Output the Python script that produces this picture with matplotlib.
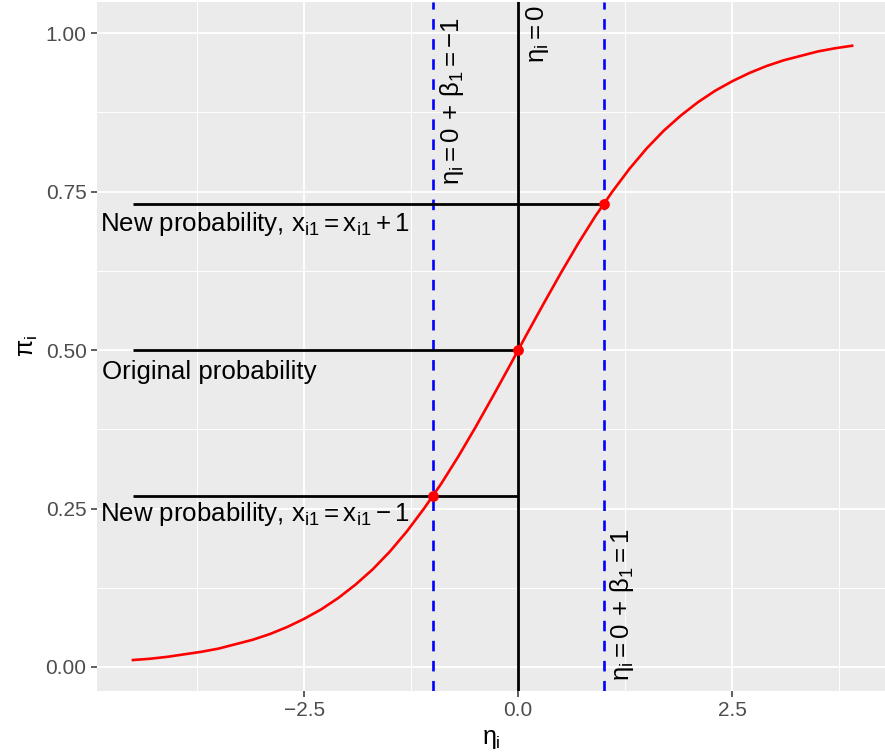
import matplotlib
matplotlib.use("Agg")
import matplotlib.pyplot as plt

plt.rcParams["font.family"] = ["Liberation Sans", "DejaVu Sans"]
plt.rcParams["mathtext.fontset"] = "custom"
plt.rcParams["mathtext.rm"] = "Liberation Sans"
plt.rcParams["mathtext.it"] = "Liberation Sans"
plt.rcParams["mathtext.bf"] = "Liberation Sans:bold"

# logistic curve, values
eta = [-4.5, -4.3, -4.1, -3.9, -3.7, -3.5, -3.3, -3.1, -2.9, -2.7, -2.5,
       -2.3, -2.1, -1.9, -1.7, -1.5, -1.3, -1.1, -0.9, -0.7, -0.5, -0.3,
       -0.1, 0.1, 0.3, 0.5, 0.7, 0.9, 1.1, 1.3, 1.5, 1.7, 1.9, 2.1, 2.3,
       2.5, 2.7, 2.9, 3.1, 3.3, 3.5, 3.7, 3.9]
prob = [0.011, 0.013, 0.016, 0.020, 0.024, 0.029, 0.036, 0.043, 0.052,
        0.063, 0.076, 0.091, 0.109, 0.130, 0.154, 0.182, 0.214, 0.250,
        0.289, 0.332, 0.378, 0.426, 0.475, 0.525, 0.574, 0.622, 0.668,
        0.711, 0.750, 0.786, 0.818, 0.846, 0.870, 0.891, 0.909, 0.924,
        0.937, 0.948, 0.957, 0.964, 0.971, 0.976, 0.980]

# marked points: beta_1 = -1, 0, +1
pt_eta = [-1.0, 0.0, 1.0]
pt_prob = [0.269, 0.5, 0.731]

# horizontal reference segments (y, x_start, x_end)
seg_y = [0.269, 0.5, 0.731]
seg_x0 = [-4.5, -4.5, -4.5]
seg_x1 = [0.0, 0.0, 1.0]

bg = "#EBEBEB"
fig = plt.figure(figsize=(8.85, 7.55), dpi=100)
ax = fig.add_axes([97 / 885, 1 - 690.7 / 755, 1 - 97 / 885, (690.7 - 2) / 755])
ax.set_facecolor(bg)
for s in ax.spines.values():
    s.set_visible(False)

ax.set_xlim(-4.92, 4.284)
ax.set_ylim(-0.0374, 1.049)

ax.set_xticks([-2.5, 0.0, 2.5])
ax.set_xticklabels(["\u22122.5", "0.0", "2.5"])
ax.set_yticks([0.0, 0.25, 0.5, 0.75, 1.0])
ax.set_yticklabels(["0.00", "0.25", "0.50", "0.75", "1.00"])
ax.set_xticks([-3.75, -1.25, 1.25, 3.75], minor=True)
ax.set_yticks([0.125, 0.375, 0.625, 0.875], minor=True)
ax.grid(which="major", color="white", lw=1.3)
ax.grid(which="minor", color="white", lw=0.7)
ax.set_axisbelow(True)
ax.tick_params(which="major", length=4.5, width=1.1, color="#333333",
               labelcolor="#4D4D4D", labelsize=15, pad=3)
ax.tick_params(which="minor", length=0)

# reference lines
ax.axvline(0, color="black", lw=2.0, zorder=2)
for xv in [-1, 1]:
    ax.axvline(xv, color="blue", lw=1.9, ls=(0, (4, 3.6)), zorder=2)
for y, x0, x1 in zip(seg_y, seg_x0, seg_x1):
    ax.plot([x0, x1], [y, y], color="black", lw=2.0, zorder=2,
            solid_capstyle="butt")

ax.plot(eta, prob, color="red", lw=1.9, zorder=3)
ax.scatter(pt_eta, pt_prob, s=60, color="red", zorder=4, linewidths=0)

txt = dict(fontsize=18.6, color="black")
ax.text(-4.88, 0.688, r"New probability, $\mathrm{x_{i1} = x_{i1} + 1}$",
        ha="left", va="baseline", **txt)
ax.text(-4.86, 0.455, "Original probability", ha="left", va="baseline", **txt)
ax.text(-4.88, 0.231, r"New probability, $\mathrm{x_{i1} = x_{i1} - 1}$",
        ha="left", va="baseline", **txt)

ax.text(-0.775, 0.892, r"$\eta_\mathrm{i} = 0\, +\, \beta_1 = -1$", rotation=90,
        ha="center", va="center", **txt)
ax.text(0.224, 0.998, r"$\eta_\mathrm{i} = 0$", rotation=90,
        ha="center", va="center", **txt)
ax.text(1.21, 0.099, r"$\eta_\mathrm{i} = 0\, +\, \beta_1 = 1$", rotation=90,
        ha="center", va="center", **txt)

ax.set_xlabel(r"$\eta_\mathrm{i}$", fontsize=18, labelpad=5)
ax.set_ylabel(r"$\pi_\mathrm{i}$", fontsize=18, labelpad=4)

fig.savefig("out.png", dpi=100, facecolor="white")
